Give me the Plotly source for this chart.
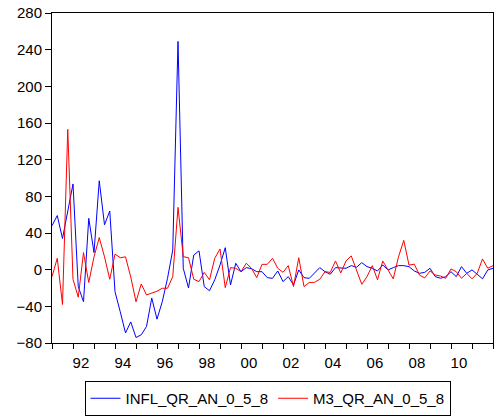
import plotly.graph_objects as go

# Quarterly observations 1991Q1 .. 2012Q1
quarters = [f"{1991 + i // 4}Q{i % 4 + 1}" for i in range(85)]

infl = [48, 59, 34, 65, 93.5, -18.5, -35, 56, 18.6, 97, 49, 64, -24, -46, -69, -57,
        -74, -71, -62, -31, -54, -35, -9.5, 21.5, 249, 1.5, -20, 16, 20.5, -18.5, -23, -11,
        5, 24, -16.7, 7, -2.2, 2.2, 1.1, -2.2, -2.2, -8.7, -9.5, -1.4, -13, -7.6, -16.7, -0.3,
        -8.7, -9.5, -4, 2.2, -2.2, -5, 2.2, 2.2, 1.5, 4.4, 2.6, 7.7, 3.3, 1.5, -1.4, 5.1,
        -0.3, 2.2, 4.4, 4.4, 3.3, -1.4, -4, -2.9, 1.5, -7.6, -9.4, -7.6, -2.2, -7.6, 3.3, -4,
        -0.3, -5, -10, -0.3, 1.5]

m3 = [-7.6, 12.4, -38, 153, -10.5, -30, 18.6, -14, 14, 35, 14, -10.5, 17, 13, 14, -8,
      -35, -15.6, -27.6, -25.8, -23.5, -20.3, -20.3, -7.6, 68, 14.2, 13, -10.5, -13, -3, -11, 12.4,
      22.6, -19.6, 2.2, 1.5, -2.2, 7, 1.5, -8.7, 5.8, 5.8, 12.4, 1.5, -2.9, 4.4, -18.5, 13,
      -18.5, -14, -13.8, -10.5, -2.2, -3, 9.5, -3.6, 9.5, 15, -0.3, -16, -7.6, 4.4, -11, 9.5,
      -0.3, -10, 14, 32, 5, 6, -6, -9, -1.4, -5.8, -7, -9.4, 0.8, -2.2, -9.4, -4,
      -10, -4, 11.7, 1.5, 4.4]

year_labels = ["92", "94", "96", "98", "00", "02", "04", "06", "08", "10"]
label_years = [1992, 1994, 1996, 1998, 2000, 2002, 2004, 2006, 2008, 2010]
y_ticks = [-80, -40, 0, 40, 80, 120, 160, 200, 240, 280]


def qpos(q):
    y, qq = q.split("Q")
    return int(y) + (int(qq) - 1) / 4


x = [qpos(q) for q in quarters]

fig = go.Figure()
fig.add_trace(go.Scatter(x=x, y=infl, mode="lines", name="INFL_QR_AN_0_5_8",
                         line=dict(color="#0000ff", width=1)))
fig.add_trace(go.Scatter(x=x, y=m3, mode="lines", name="M3_QR_AN_0_5_8",
                         line=dict(color="#ff0000", width=1)))

font = dict(family="Liberation Sans, Arial, sans-serif", size=15, color="black")

W, H = 500, 419
fig.update_layout(
    width=W, height=H,
    margin=dict(l=52, r=7, t=13, b=76),
    paper_bgcolor="white", plot_bgcolor="white",
    font=font,
    showlegend=True,
    legend=dict(orientation="h", xref="container", yref="container",
                x=267.5 / W, xanchor="center", y=1 - 381 / H, yanchor="top",
                bordercolor="black", borderwidth=1,
                font=dict(family="Liberation Sans, Arial, sans-serif", size=15, color="black"),
                tracegroupgap=0),
    xaxis=dict(
        range=[1991, 2012],
        tickmode="array",
        tickvals=[yv + 0.375 for yv in label_years],
        ticktext=year_labels,
        ticks="outside", ticklen=6, tickcolor="rgba(0,0,0,0)",
        minor=dict(tickmode="array", tickvals=list(range(1991, 2013)),
                   ticks="outside", ticklen=5, tickcolor="black", tickwidth=1, showgrid=False),
        showgrid=False, zeroline=False,
        showline=True, linecolor="black", linewidth=1, mirror=True,
        tickfont=font, automargin=False,
    ),
    yaxis=dict(
        range=[-80, 280],
        tickmode="array", tickvals=y_ticks,
        ticks="outside", ticklen=6, tickcolor="black",
        showgrid=False, zeroline=False,
        showline=True, linecolor="black", linewidth=1, mirror=True,
        tickfont=font, automargin=False,
    ),
)

# remove the default 8px page margin so the figure fills the window exactly
fig.write_html("out.html", config={"displayModeBar": False},
               post_script="document.body.style.margin='0px';")
